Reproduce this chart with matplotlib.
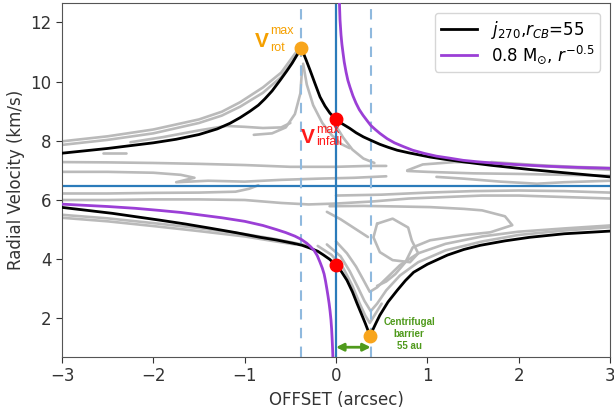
import matplotlib
matplotlib.use("Agg")
import matplotlib.pyplot as plt

# --- model curves ---
cmu_up_x = [-3.0, -2.5, -2.0, -1.75, -1.5, -1.3, -1.16, -1.05, -0.94, -0.85, -0.78, -0.7, -0.61, -0.54, -0.48, -0.43, -0.38,
            -0.33, -0.285, -0.23, -0.175, -0.12, -0.066, -0.03, 0.0, 0.07, 0.15, 0.22, 0.30, 0.4, 0.48, 0.57, 0.67, 0.8,
            1.03, 1.2, 1.39, 1.7, 2.12, 2.5, 3.0]
cmu_up_v = [7.58, 7.74, 7.93, 8.05, 8.21, 8.4, 8.59, 8.78, 9.0, 9.2, 9.41, 9.68, 10.05, 10.35, 10.62, 10.88, 11.13,
            10.75, 10.39, 9.93, 9.48, 9.17, 8.93, 8.82, 8.73, 8.57, 8.42, 8.27, 8.13, 7.99, 7.88, 7.78, 7.68, 7.59,
            7.45, 7.37, 7.29, 7.17, 7.03, 6.92, 6.78]
cmu_lo_x = [-3.0, -2.45, -1.93, -1.65, -1.38, -1.1, -0.83, -0.65, -0.47, -0.37, -0.28, -0.2, -0.14, -0.07, 0.0, 0.06,
            0.12, 0.18, 0.23, 0.28, 0.32, 0.35, 0.37, 0.40, 0.44, 0.48, 0.57, 0.67, 0.76, 0.85, 1.0, 1.22, 1.4, 1.58,
            1.85, 2.12, 2.5, 3.0]
cmu_lo_v = [5.75, 5.55, 5.32, 5.19, 5.05, 4.9, 4.74, 4.65, 4.54, 4.47, 4.37, 4.27, 4.15, 4.0, 3.8, 3.58,
            3.29, 2.9, 2.51, 2.14, 1.84, 1.6, 1.40, 1.6, 1.86, 2.11, 2.56, 2.95, 3.28, 3.56, 3.83, 4.14, 4.33, 4.47,
            4.62, 4.74, 4.86, 4.95]

kep_up_x = [0.036, 0.044, 0.05, 0.055, 0.065, 0.077, 0.09, 0.11, 0.13, 0.153, 0.185, 0.219, 0.255, 0.296, 0.34, 0.38,
            0.43, 0.48, 0.56, 0.64, 0.74, 0.84, 0.97, 1.1, 1.25, 1.39, 1.55, 1.75, 2.0, 2.3, 2.65, 3.0]
kep_up_v = [12.8, 12.08, 11.8, 11.57, 11.25, 10.96, 10.66, 10.32, 10.04, 9.81, 9.52, 9.27, 9.05, 8.86, 8.68, 8.52,
            8.38, 8.25, 8.07, 7.93, 7.8, 7.68, 7.57, 7.48, 7.41, 7.34, 7.29, 7.24, 7.19, 7.14, 7.1, 7.07]
kep_lo_x = [-3.0, -2.5, -2.2, -1.94, -1.7, -1.5, -1.25, -1.0, -0.8, -0.65, -0.55, -0.45, -0.38, -0.32, -0.28,
            -0.24, -0.205, -0.175, -0.15, -0.13, -0.115, -0.1, -0.087, -0.075, -0.065, -0.055, -0.048, -0.042, -0.037, -0.033]
kep_lo_v = [5.86, 5.78, 5.72, 5.65, 5.58, 5.5, 5.4, 5.28, 5.14, 5.0, 4.9, 4.78, 4.67, 4.54, 4.43,
            4.3, 4.12, 3.9, 3.7, 3.5, 3.27, 3.0, 2.75, 2.5, 2.25, 1.95, 1.65, 1.3, 0.95, 0.6]

v_sys = 6.47
r_cb = 0.38
rot_pt = (-0.38, 11.13)
cb_pt = (0.37, 1.40)
infall_up = (0.0, 8.73)
infall_lo = (0.0, 3.80)

# --- observed contours (traced by eye) ---
contours = [
    ([-3.0, -2.5, -2.0, -1.5, -1.25, -1.05, -0.8, -0.6, -0.47, -0.41], [7.98, 8.15, 8.38, 8.72, 8.98, 9.3, 9.8, 10.3, 10.85, 11.1]),
    ([-3.0, -2.5, -2.0, -1.5, -1.25, -1.05, -0.8, -0.6, -0.47, -0.39], [7.86, 8.03, 8.25, 8.6, 8.85, 9.15, 9.62, 10.15, 10.7, 11.05]),
    ([-2.25, -1.9, -1.5, -1.2, -1.0, -0.8, -0.6, -0.5], [7.95, 8.12, 8.35, 8.5, 8.47, 8.43, 8.45, 8.6]),
    ([-0.9, -0.7, -0.55, -0.45, -0.39, -0.37], [8.2, 8.25, 8.45, 8.9, 9.6, 10.5]),
    ([-0.36, -0.32, -0.25, -0.15, -0.05, 0.05, 0.15], [10.6, 9.9, 9.2, 8.6, 8.2, 7.9, 7.75]),
    ([0.0, 0.08, 0.18, 0.3, 0.42], [8.5, 8.1, 7.7, 7.4, 7.25]),
    ([-2.55, -2.3], [7.6, 7.6]),
    ([-3.0, -2.5, -2.0, -1.5, -1.0, -0.5, 0.0, 0.35, 0.55], [7.28, 7.27, 7.25, 7.22, 7.18, 7.12, 7.12, 7.15, 7.15]),
    ([-3.0, -2.5, -2.0, -1.7, -1.55, -1.75, -1.4, -1.0, -0.6, -0.2, 0.2, 0.55], [6.95, 6.95, 6.92, 6.85, 6.75, 6.6, 6.65, 6.62, 6.68, 6.72, 6.75, 6.8]),
    ([0.78, 0.95, 1.3, 1.7, 2.1, 2.5, 3.0], [7.0, 7.2, 7.28, 7.25, 7.18, 7.1, 7.02]),
    ([0.78, 1.0, 1.5, 2.0, 2.5, 3.0], [6.98, 6.95, 6.9, 6.88, 6.85, 6.82]),
    ([1.1, 1.4, 1.8, 2.2, 2.5, 3.0], [6.78, 6.72, 6.62, 6.55, 6.6, 6.65]),
    ([1.7, 2.2, 2.6, 3.0], [7.28, 7.18, 7.12, 7.08]),
    ([-3.0, -2.5, -2.0, -1.5, -1.1, -0.95, -0.85], [6.22, 6.22, 6.24, 6.25, 6.28, 6.38, 6.5]),
    ([-3.0, -2.5, -2.0, -1.5, -1.0, -0.6, -0.3, 0.0, 0.4, 0.8, 1.2, 1.6, 2.0, 2.5, 3.0],
     [6.0, 6.0, 6.02, 6.02, 6.0, 5.9, 5.85, 5.88, 5.95, 6.05, 6.1, 6.15, 6.15, 6.1, 6.05]),
    ([0.0, 0.5, 1.0, 1.5, 2.0, 2.5, 3.0], [6.15, 6.18, 6.25, 6.3, 6.32, 6.3, 6.25]),
    ([-3.0, -2.5, -2.0, -1.5, -1.0, -0.7, -0.45, -0.3], [5.5, 5.38, 5.22, 5.05, 4.85, 4.7, 4.55, 4.45]),
    ([-3.0, -2.5, -2.0, -1.5, -1.0, -0.7, -0.45], [5.4, 5.28, 5.12, 4.95, 4.77, 4.62, 4.5]),
    ([-0.2, -0.05, 0.08, 0.18, 0.26, 0.32, 0.37, 0.42, 0.5], [4.45, 4.15, 3.7, 3.1, 2.5, 2.1, 1.85, 2.1, 2.5]),
    ([-0.1, 0.05, 0.15, 0.24, 0.31, 0.38, 0.45, 0.55, 0.7, 0.9, 1.2, 1.6, 2.0, 2.5, 3.0],
     [4.5, 4.1, 3.6, 3.05, 2.6, 2.25, 2.5, 2.95, 3.45, 3.9, 4.3, 4.6, 4.82, 4.97, 5.08]),
    ([0.0, 0.12, 0.22, 0.3, 0.37, 0.45, 0.55, 0.7, 0.9, 1.2, 1.6, 2.0, 2.5, 3.0],
     [4.6, 4.2, 3.75, 3.3, 2.9, 3.05, 3.35, 3.8, 4.2, 4.52, 4.77, 4.93, 5.04, 5.14]),
    ([-0.07, 0.3, 0.7, 1.03, 1.4, 1.6, 1.85, 1.93, 1.69, 1.39, 1.03, 0.84, 0.76, 0.65, 0.55, 0.45],
     [5.79, 5.8, 5.78, 5.76, 5.7, 5.65, 5.45, 5.15, 4.91, 4.81, 4.64, 4.4, 3.9, 3.5, 3.25, 3.1]),
    ([-0.1, 0.05, 0.2, 0.3, 0.35], [5.6, 5.35, 5.05, 4.85, 4.75]),
    ([0.45, 0.62, 0.79, 0.83, 0.9, 0.81, 0.62, 0.48, 0.41, 0.45], [5.2, 5.37, 5.07, 4.63, 4.2, 3.9, 3.97, 4.24, 4.74, 5.2]),
]

fig = plt.figure(figsize=(6.14, 4.16), dpi=100)
ax = fig.add_axes([62 / 614, 1 - 357 / 416, 548 / 614, 354 / 416])

for cx, cv in contours:
    ax.plot(cx, cv, color='#bababa', lw=1.9, solid_capstyle='round', solid_joinstyle='round', zorder=1)

ax.axhline(v_sys, color='#2b7bba', lw=1.6, zorder=2)
ax.axvline(0, color='#2b7bba', lw=1.6, zorder=2)
for xd in (-r_cb, r_cb):
    ax.axvline(xd, color='#8fb9de', lw=1.5, ls=(0, (5, 4)), zorder=2)

ax.plot(cmu_up_x, cmu_up_v, color='black', lw=2, zorder=3, label=r'$j_{270}$,$r_{CB}$=55')
ax.plot(cmu_lo_x, cmu_lo_v, color='black', lw=2, zorder=3)
ax.plot(kep_up_x, kep_up_v, color='#9b3fd6', lw=2, zorder=4, label=r'0.8 M$_{\odot}$, $r^{-0.5}$')
ax.plot(kep_lo_x, kep_lo_v, color='#9b3fd6', lw=2, zorder=4)

ax.plot(*rot_pt, 'o', color='#f8a51c', ms=9, zorder=5)
ax.plot(*cb_pt, 'o', color='#f8a51c', ms=9, zorder=5)
ax.plot(*infall_up, 'o', color='#ff0000', ms=9, zorder=5)
ax.plot(*infall_lo, 'o', color='#ff0000', ms=9, zorder=5)

afont = 'Liberation Sans'
ax.text(-0.89, 11.16, 'V', color='#f5a000', fontsize=15, fontweight='bold', family=afont)
ax.text(-0.725, 11.62, 'max', color='#f5a000', fontsize=9, family=afont)
ax.text(-0.725, 11.03, 'rot', color='#f5a000', fontsize=9, family=afont)
ax.text(-0.385, 7.92, 'V', color='#ff1a1a', fontsize=15, fontweight='bold', family=afont)
ax.text(-0.22, 8.27, 'max', color='#ff1a1a', fontsize=9, family=afont)
ax.text(-0.22, 7.86, 'infall', color='#ff1a1a', fontsize=9, family=afont)

ax.text(0.80, 1.47, 'Centrifugal\nbarrier\n55 au', color='#4f9a1c', fontsize=7, fontweight='bold',
        family=afont, ha='center', va='center', linespacing=1.25)
ax.annotate('', xy=(r_cb, 1.03), xytext=(0.0, 1.03),
            arrowprops=dict(arrowstyle='<|-|>', color='#4f9a1c', lw=2, mutation_scale=11,
                            shrinkA=0, shrinkB=0), zorder=6)

ax.set_xlim(-3, 3)
ax.set_ylim(0.7, 12.65)
ax.set_xticks([-3, -2, -1, 0, 1, 2, 3])
ax.set_yticks([2, 4, 6, 8, 10, 12])
ax.tick_params(labelsize=12, colors='#333333', length=4)
for s in ax.spines.values():
    s.set_color('#555555')
ax.set_xlabel('OFFSET (arcsec)', fontsize=12, color='#333333')
ax.set_ylabel('Radial Velocity (km/s)', fontsize=12, color='#333333')

leg = ax.legend(loc='upper right', fontsize=12, frameon=True, handlelength=2.2,
                labelspacing=0.15, borderpad=0.35, borderaxespad=0.6)
leg.get_frame().set_edgecolor('#cccccc')

fig.savefig('out.png', dpi=100)
